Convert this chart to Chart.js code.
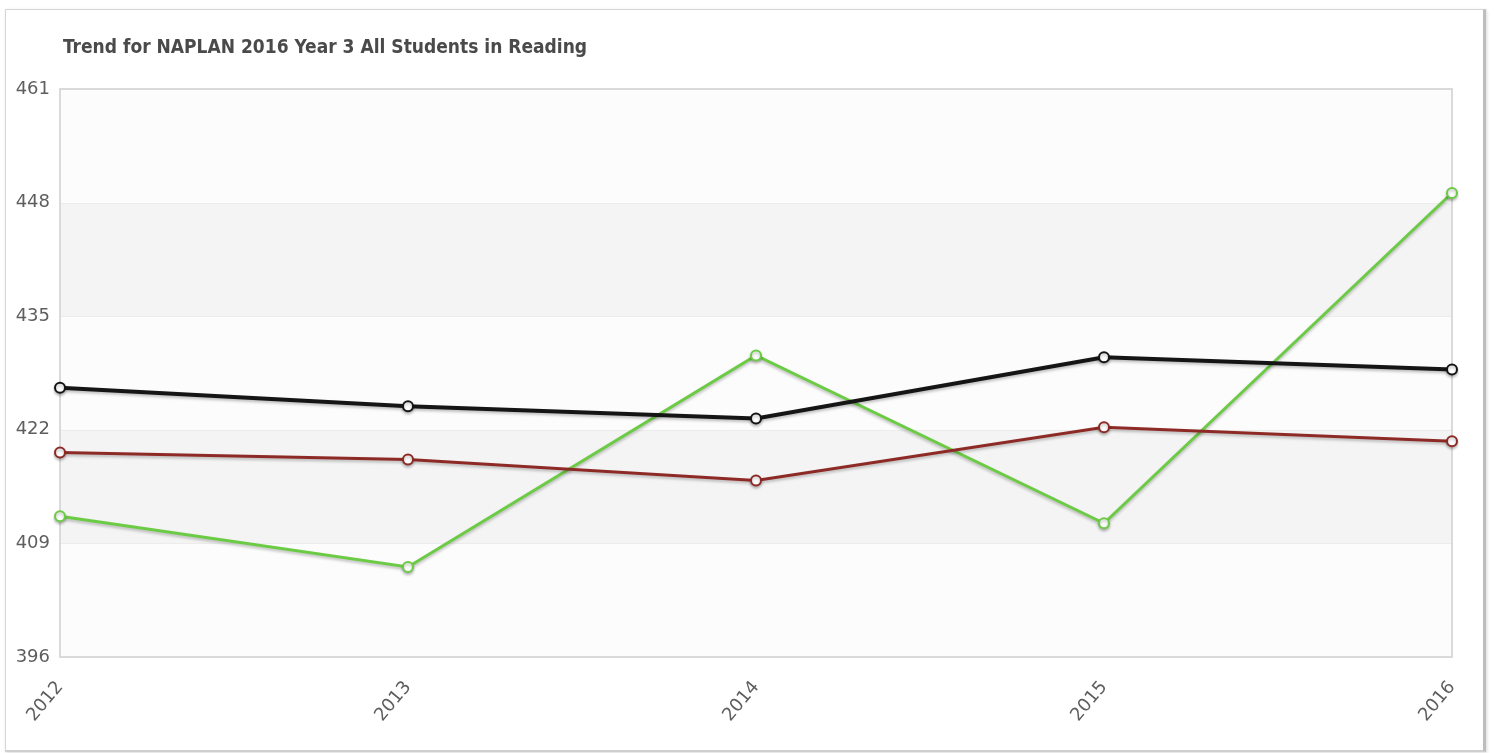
<!DOCTYPE html>
<html>
<head>
<meta charset="utf-8">
<script src="https://cdn.jsdelivr.net/npm/chart.js@4"></script>
<style>
  html, body { margin: 0; padding: 0; background: #fff; }
  #frame {
    position: absolute; left: 5px; top: 9px; width: 1477px; height: 740px;
    border: 1px solid #d6d6d6; border-right: 3px solid #bdbdbd; border-bottom: 2px solid #cfcfcf;
    box-shadow: 1px 1px 3px rgba(0,0,0,0.15);
  }
  #wrap { position: absolute; left: 0; top: 0; width: 1494px; height: 753px; }
</style>
</head>
<body>
<div id="frame"></div>
<div id="wrap"><canvas id="trendChart"></canvas></div>
<script>
const years = ['2012', '2013', '2014', '2015', '2016'];
const blackSeries = [426.8, 424.7, 423.3, 430.3, 428.9];
const redSeries = [419.4, 418.6, 416.2, 422.3, 420.7];
const greenSeries = [412.1, 406.3, 430.5, 411.3, 449.1];
const yTicks = [396, 409, 422, 435, 448, 461];
const chartTitle = 'Trend for NAPLAN 2016 Year 3 All Students in Reading';

document.addEventListener('DOMContentLoaded', function () {
    const ctx = document.getElementById('trendChart');

    // alternating bands, plot border, line shadows and the title
    const bandsPlugin = {
        id: 'bands',
        beforeDatasetsDraw(chart) {
            const c = chart.ctx;
            const area = chart.chartArea;
            const y = chart.scales.y;
            c.save();
            for (let i = 0; i < yTicks.length - 1; i++) {
                const top = y.getPixelForValue(yTicks[i + 1]);
                const bottom = y.getPixelForValue(yTicks[i]);
                c.fillStyle = (i % 2 === 1) ? '#f4f4f4' : '#fcfcfc';
                c.fillRect(area.left, top, area.right - area.left, bottom - top);
            }
            c.strokeStyle = '#ececec';
            c.lineWidth = 1;
            for (let i = 1; i < yTicks.length - 1; i++) {
                const py = Math.round(y.getPixelForValue(yTicks[i])) + 0.5;
                c.beginPath();
                c.moveTo(area.left, py);
                c.lineTo(area.right, py);
                c.stroke();
            }
            c.strokeStyle = '#dadada';
            c.lineWidth = 2;
            c.strokeRect(area.left, area.top, area.right - area.left, area.bottom - area.top);
            c.restore();
        },
        beforeDatasetDraw(chart) {
            chart.ctx.save();
            chart.ctx.shadowColor = 'rgba(0,0,0,0.25)';
            chart.ctx.shadowBlur = 3;
            chart.ctx.shadowOffsetY = 2;
        },
        afterDatasetDraw(chart) {
            chart.ctx.restore();
        },
        afterDraw(chart) {
            const c = chart.ctx;
            c.save();
            c.font = 'bold 19px "DejaVu Sans Condensed", "DejaVu Sans", sans-serif';
            c.fillStyle = '#4a4a4a';
            c.textBaseline = 'middle';
            c.fillText(chartTitle, 63, 48);
            c.restore();
        }
    };

    const pointStyle = (color) => ({
        borderColor: color,
        pointBorderColor: color,
        pointBackgroundColor: '#ffffff',
        pointRadius: 5,
        pointBorderWidth: 2,
        tension: 0
    });

    const tickFont = { family: '"DejaVu Sans", sans-serif', size: 18 };

    new Chart(ctx, {
        type: 'line',
        data: {
            labels: years,
            datasets: [
                Object.assign({ label: 'Black', data: blackSeries, borderWidth: 4 }, pointStyle('#151515')),
                Object.assign({ label: 'Red', data: redSeries, borderWidth: 3 }, pointStyle('#8e2a26')),
                Object.assign({ label: 'Green', data: greenSeries, borderWidth: 3 }, pointStyle('#6ccb45'))
            ]
        },
        options: {
            responsive: true,
            maintainAspectRatio: false,
            animation: false,
            layout: { padding: { top: 89, right: 42, left: 8, bottom: 0 } },
            plugins: {
                legend: { display: false },
                tooltip: { enabled: false }
            },
            scales: {
                x: {
                    offset: false,
                    grid: { display: false },
                    border: { display: false },
                    ticks: {
                        color: '#5e5e5e',
                        font: tickFont,
                        maxRotation: 50,
                        minRotation: 50,
                        padding: 12
                    },
                    afterFit(scale) { scale.height = 96; }
                },
                y: {
                    min: 396,
                    max: 461,
                    grid: { display: false },
                    border: { display: false },
                    afterBuildTicks(scale) {
                        scale.ticks = yTicks.map(v => ({ value: v }));
                    },
                    ticks: {
                        color: '#5e5e5e',
                        font: tickFont,
                        padding: 2
                    },
                    afterFit(scale) { scale.width = 52; }
                }
            }
        },
        plugins: [bandsPlugin]
    });
});
</script>
</body>
</html>
